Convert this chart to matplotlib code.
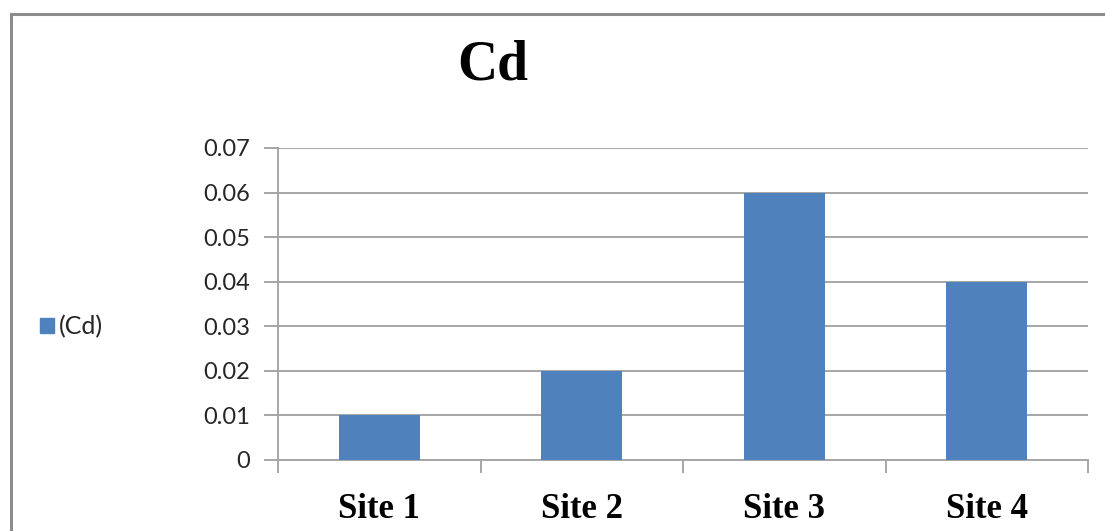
import matplotlib
matplotlib.use("Agg")
import matplotlib.pyplot as plt
from matplotlib.patches import Rectangle
from matplotlib.ticker import FixedLocator, MultipleLocator

sites = ["Site 1", "Site 2", "Site 3", "Site 4"]
cd_values = [0.01, 0.02, 0.06, 0.04]
series_name = "(Cd)"
title = "Cd"

W, H = 1105, 531
fig = plt.figure(figsize=(W / 100, H / 100), dpi=100)

# outer chart-area frame
fig.patches.append(Rectangle((11 / W, -0.1), 1.2, 1 - 14 / H + 0.1,
                             transform=fig.transFigure, fill=False,
                             edgecolor="#8c8c8c", linewidth=2.2))

ax = fig.add_axes([278 / W, 1 - 460 / H, (1088 - 278) / W, (460 - 148) / H])
bar_color = "#4F81BD"
grid_color = "#a6a6a6"

x = range(len(sites))
ax.bar(x, cd_values, width=0.4, color=bar_color, zorder=3)

ax.set_xlim(-0.5, len(sites) - 0.5)
ax.set_ylim(0, 0.07)
ax.yaxis.set_major_locator(MultipleLocator(0.01))
ax.set_yticklabels(["0" if v == 0 else f"{v:.2f}" for v in ax.get_yticks()])
ax.grid(axis="y", color=grid_color, linewidth=1.4, zorder=0)

for s in ["top", "right"]:
    ax.spines[s].set_visible(False)
for s in ["left", "bottom"]:
    ax.spines[s].set_color(grid_color)
    ax.spines[s].set_linewidth(1.4)

ax.tick_params(axis="y", length=10, width=1.4, color=grid_color, pad=10,
               labelsize=17, labelcolor="#262626")
for lbl in ax.get_yticklabels():
    lbl.set_fontfamily("Lato")

ax.set_xticks(list(x))
ax.set_xticklabels(sites, fontfamily="Liberation Serif", fontweight="bold",
                   fontsize=25)
ax.tick_params(axis="x", which="major", length=0, pad=24)
ax.xaxis.set_minor_locator(FixedLocator([i - 0.5 for i in range(len(sites) + 1)]))
ax.tick_params(axis="x", which="minor", length=9, width=1.4, color=grid_color,
               direction="out")

fig.text(493 / W, 1 - 66 / H, title, ha="center", va="center",
         fontfamily="Liberation Serif", fontweight="bold", fontsize=40)

# legend entry
fig.patches.append(Rectangle((40 / W, 1 - 333 / H), 14 / W, 15 / H,
                             transform=fig.transFigure, color=bar_color))
fig.text(59 / W, 1 - 327 / H, series_name, ha="left", va="center",
         fontfamily="Lato", fontsize=18, color="#262626")

fig.savefig("out.png", dpi=100)
